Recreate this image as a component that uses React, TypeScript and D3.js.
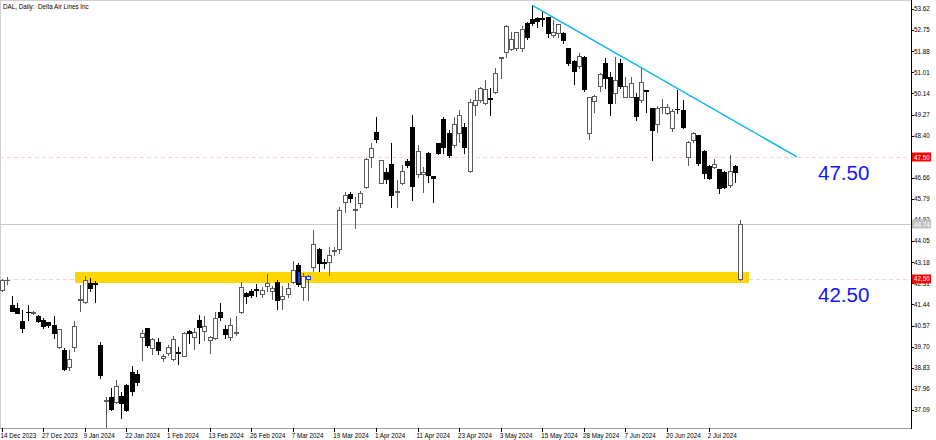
import React from 'react';
import * as d3 from 'd3';

const opens = [
  42.03, 42.45, 41.42, 41.31, 40.76, 41.15, 41.08, 40.97, 40.80, 40.70,
  40.60, 39.70, 39.56, 38.87, 39.70, 41.62, 41.53, 42.31, 42.34, 39.77,
  37.48, 37.64, 37.41, 37.67, 38.12, 38.64, 38.56, 40.08, 40.49, 39.63,
  39.91, 39.22, 39.43, 39.18, 39.50, 39.32, 40.35, 40.09, 40.80, 40.33,
  39.98, 40.06, 41.14, 40.43, 40.09, 40.26, 41.14, 41.90, 41.99, 42.08,
  41.86, 42.20, 41.99, 42.37, 41.65, 41.86, 42.35, 43.07, 42.15, 42.51,
  43.00, 43.72, 43.20, 43.20, 43.64, 43.72, 45.68, 45.98, 45.32, 45.61,
  46.27, 47.51, 48.56, 46.46, 46.91, 47.23, 46.07, 46.46, 47.37, 48.77,
  46.82, 46.82, 47.70, 46.72, 48.08, 49.10, 48.50, 48.01, 48.50, 48.77,
  46.96, 49.66, 49.87, 49.76, 49.97, 50.21, 51.60, 51.86, 51.96, 52.00,
  52.00, 53.03, 53.20, 53.24, 53.24, 53.28, 52.55, 52.64, 52.64, 52.00,
  51.49, 51.28, 51.63, 48.50, 49.83, 50.45, 51.38, 50.83, 50.14, 51.41,
  50.01, 50.01, 50.00, 49.87, 50.28, 49.53, 48.88, 49.56, 49.32, 48.70,
  49.51, 49.46, 47.53, 48.22, 48.43, 47.77, 47.15, 47.12, 47.01, 46.91,
  46.37, 47.15, 42.50,
];
const highs = [
  42.50, 42.58, 41.78, 41.49, 41.21, 41.42, 41.17, 41.00, 40.87, 40.73,
  40.96, 40.43, 39.63, 39.56, 40.76, 42.25, 42.60, 42.53, 42.42, 39.88,
  37.64, 38.01, 38.33, 37.85, 38.16, 38.90, 38.74, 40.40, 40.49, 40.07,
  40.07, 39.40, 39.77, 40.12, 39.70, 40.30, 40.38, 40.46, 41.00, 40.98,
  40.15, 41.14, 41.49, 40.60, 40.87, 40.97, 42.38, 41.97, 42.07, 42.29,
  42.18, 42.70, 42.20, 42.45, 42.20, 42.31, 43.24, 43.14, 42.73, 42.66,
  44.51, 43.76, 43.30, 43.82, 43.80, 45.45, 46.09, 46.09, 45.88, 46.13,
  47.47, 48.08, 49.18, 47.40, 47.05, 48.08, 46.57, 47.20, 47.42, 49.25,
  48.00, 47.12, 47.74, 46.75, 48.10, 49.18, 48.63, 49.18, 49.46, 48.91,
  49.90, 50.30, 50.40, 50.70, 50.35, 51.18, 51.65, 52.96, 52.68, 52.68,
  52.90, 53.10, 53.78, 53.30, 53.50, 53.30, 53.17, 53.00, 52.66, 52.02,
  51.50, 51.80, 51.70, 50.00, 50.08, 51.00, 51.60, 51.04, 51.65, 51.55,
  50.83, 50.80, 50.14, 51.18, 50.30, 49.53, 49.62, 49.90, 49.70, 49.50,
  50.28, 49.87, 48.17, 48.56, 48.43, 47.81, 47.17, 47.42, 47.01, 46.95,
  47.60, 47.19, 44.92,
];
const lows = [
  41.98, 42.30, 41.16, 41.08, 40.32, 40.81, 41.05, 40.72, 40.49, 40.53,
  40.05, 39.65, 38.74, 38.74, 39.52, 41.17, 41.50, 41.99, 41.53, 38.42,
  36.40, 37.09, 37.37, 36.77, 37.05, 37.70, 38.12, 39.15, 39.70, 39.38,
  39.41, 39.10, 39.36, 39.15, 39.00, 39.30, 39.86, 39.60, 39.85, 39.97,
  39.43, 40.02, 40.80, 40.04, 39.98, 40.20, 41.10, 41.49, 41.74, 41.79,
  41.76, 42.00, 41.68, 41.25, 41.25, 41.76, 42.33, 42.20, 41.62, 41.62,
  42.80, 42.80, 42.93, 42.65, 43.50, 43.55, 45.26, 45.68, 44.58, 45.47,
  46.23, 47.12, 48.15, 46.44, 46.46, 45.47, 45.47, 46.40, 47.10, 45.75,
  46.70, 46.09, 46.50, 45.68, 47.66, 47.69, 47.53, 47.95, 48.15, 47.70,
  46.90, 49.25, 49.80, 49.70, 49.25, 50.14, 50.76, 51.65, 51.93, 51.93,
  51.90, 52.37, 52.98, 52.89, 52.92, 52.45, 52.45, 52.48, 52.20, 51.33,
  50.53, 51.20, 50.25, 48.25, 49.39, 50.25, 50.35, 49.25, 49.73, 50.35,
  50.00, 49.98, 49.04, 49.80, 49.39, 47.40, 48.56, 49.32, 49.28, 48.60,
  49.32, 48.70, 47.19, 48.15, 47.19, 46.64, 46.60, 47.05, 46.02, 46.25,
  46.30, 46.50, 42.45,
];
const closes = [
  42.43, 42.46, 41.19, 41.10, 40.49, 41.14, 41.14, 40.76, 40.57, 40.58,
  40.25, 40.43, 38.78, 39.18, 40.57, 41.66, 42.44, 42.10, 42.30, 38.53,
  37.52, 37.12, 38.09, 37.37, 37.09, 37.89, 38.26, 40.25, 39.77, 40.02,
  39.56, 39.32, 39.68, 40.00, 39.43, 40.25, 40.28, 40.32, 40.50, 40.57,
  40.09, 40.87, 40.94, 40.22, 40.60, 40.32, 42.15, 41.79, 41.82, 42.04,
  42.04, 42.34, 42.13, 41.62, 41.79, 42.11, 42.86, 42.30, 42.62, 42.62,
  43.93, 43.14, 43.13, 43.48, 43.70, 45.33, 45.95, 45.82, 45.36, 46.05,
  47.42, 47.88, 48.25, 47.38, 46.60, 45.95, 46.13, 46.94, 47.19, 46.33,
  47.78, 46.91, 46.78, 46.65, 47.70, 47.94, 47.60, 48.88, 49.25, 47.94,
  49.80, 49.87, 50.35, 50.31, 49.93, 50.97, 51.63, 52.92, 52.37, 52.68,
  52.78, 52.48, 53.05, 53.14, 53.20, 52.62, 52.66, 53.00, 52.34, 51.41,
  51.08, 51.68, 50.31, 49.98, 50.03, 50.94, 50.76, 49.76, 50.69, 50.45,
  50.45, 50.59, 49.21, 50.62, 50.25, 48.63, 49.53, 49.60, 49.57, 49.41,
  49.48, 48.77, 48.15, 48.50, 47.26, 46.85, 46.64, 47.23, 46.23, 46.30,
  46.95, 46.91, 44.74,
];

const xTickLabels = [
  '14 Dec 2023', '27 Dec 2023', '9 Jan 2024', '22 Jan 2024', '1 Feb 2024',
  '13 Feb 2024', '26 Feb 2024', '7 Mar 2024', '19 Mar 2024', '1 Apr 2024',
  '11 Apr 2024', '23 Apr 2024', '3 May 2024', '15 May 2024', '28 May 2024',
  '7 Jun 2024', '20 Jun 2024', '2 Jul 2024',
];
const xTickStep = 8;
const yTickValues = [
  53.62, 52.75, 51.88, 51.01, 50.14, 49.27, 48.4, 47.53, 46.66, 45.79,
  44.92, 44.05, 43.18, 42.31, 41.44, 40.57, 39.7, 38.83, 37.96, 37.09,
];
const levelPrices = [47.5, 42.5];
const lastPrice = 44.74;
const zoneBars = [14.1, 143.8];
const zonePrices = [42.32, 42.77];
const trendBars = [102, 153];
const trendPrices = [53.78, 47.52];
const blueBars = [57, 59];
const title = 'DAL, Daily:  Delta Air Lines Inc';

const W = 936;
const H = 440;
const PLOT_R = 911;
const PLOT_B = 428;
const FONT = "'Liberation Sans', Arial, sans-serif";

export default function App() {
  const x = d3.scaleLinear().domain([0, 142]).range([1.5, 1.5 + 5.2 * 142]);
  const y = d3.scaleLinear().domain([37.09, 53.62]).range([410, 9]);
  const px = (i: number) => Math.round(x(i));
  const py = (v: number) => Math.round(y(v));

  const candles = opens.map((o, i) => ({ i, o, h: highs[i], l: lows[i], c: closes[i] }));
  const line = d3.line<number>().x((d, k) => x(trendBars[k])).y((d) => y(d));

  return (
    <svg width={W} height={H} style={{ position: 'absolute', left: 0, top: 0, background: '#fff' }}
      fontFamily={FONT}>
      <defs>
        <clipPath id="plot"><rect x={0} y={0} width={PLOT_R} height={PLOT_B} /></clipPath>
        <clipPath id="zone">
          <rect x={x(zoneBars[0])} y={y(zonePrices[1])} width={x(zoneBars[1]) - x(zoneBars[0])}
            height={y(zonePrices[0]) - y(zonePrices[1])} />
        </clipPath>
      </defs>
      <rect x={0} y={0} width={W} height={H} fill="#fff" />
      <line x1={0} y1={0.5} x2={PLOT_R} y2={0.5} stroke="#d0d0d0" />
      <line x1={0.5} y1={0} x2={0.5} y2={PLOT_B} stroke="#d0d0d0" />
      <g clipPath="url(#plot)" shapeRendering="crispEdges">
        <line x1={0} x2={PLOT_R} y1={py(lastPrice) + 0.5} y2={py(lastPrice) + 0.5} stroke="#c8c8c8" />
        {levelPrices.map((p) => (
          <line key={p} x1={0} x2={PLOT_R} y1={py(p) + 0.5} y2={py(p) + 0.5} stroke="#fbd0d0" strokeDasharray="4,3" />
        ))}
        <rect x={x(zoneBars[0])} y={y(zonePrices[1])} width={x(zoneBars[1]) - x(zoneBars[0])}
          height={y(zonePrices[0]) - y(zonePrices[1])} fill="#FFD700" />
        {candles.map((d) => {
          const cx = px(d.i);
          const bull = d.c >= d.o;
          const top = py(Math.max(d.o, d.c));
          const bot = py(Math.min(d.o, d.c));
          const col = bull ? '#5a5a5a' : '#000';
          return (
            <g key={d.i}>
              <line x1={cx + 0.5} x2={cx + 0.5} y1={py(d.h)} y2={py(d.l) + 1} stroke={col} />
              {bot - top < 1 ? (
                <line x1={cx - 2} x2={cx + 3} y1={top + 0.5} y2={top + 0.5} stroke={col} />
              ) : (
                <rect x={cx - 1.5} y={top + 0.5} width={4} height={bot - top} fill={bull ? '#fff' : '#000'} stroke={col} />
              )}
            </g>
          );
        })}
        <g clipPath="url(#zone)">
          {blueBars.map((i) => {
            const cx = px(i);
            const bull = closes[i] >= opens[i];
            const top = py(Math.max(opens[i], closes[i]));
            const bot = py(Math.min(opens[i], closes[i]));
            return bull ? (
              <rect key={i} x={cx - 1.5} y={top + 0.5} width={4} height={Math.max(1, bot - top)} fill="#fff" stroke="#1c3cff" />
            ) : (
              <rect key={i} x={cx - 0.5} y={top + 1} width={2} height={bot - top - 1} fill="#1c3cff" />
            );
          })}
        </g>
        <path d={line(trendPrices) || ''} fill="none" stroke="#00b4f0" strokeWidth={1.4} shapeRendering="auto" />
      </g>
      <text x={3} y={8.5} fontSize={6.3} fill="#000" style={{ whiteSpace: 'pre' }}>{title}</text>
      {levelPrices.map((p) => (
        <text key={p} x={818} y={y(p) + 23} fontSize={20.5} fill="#1414ff">{p.toFixed(2)}</text>
      ))}
      <g shapeRendering="crispEdges">
        <line x1={0} x2={PLOT_R} y1={PLOT_B + 0.5} y2={PLOT_B + 0.5} stroke="#a0a0a0" />
        <line x1={PLOT_R + 0.5} x2={PLOT_R + 0.5} y1={0} y2={PLOT_B + 1} stroke="#000" />
        {yTickValues.map((v) => (
          <line key={v} x1={PLOT_R} x2={PLOT_R + 3} y1={py(v) + 0.5} y2={py(v) + 0.5} stroke="#000" />
        ))}
        {xTickLabels.map((t, k) => (
          <line key={t} x1={px(k * xTickStep) + 0.5} x2={px(k * xTickStep) + 0.5} y1={PLOT_B} y2={PLOT_B + 4} stroke="#000" />
        ))}
      </g>
      {yTickValues.map((v) => (
        <text key={v} x={PLOT_R + 3} y={y(v) + 2.3} fontSize={6.3} fill="#000">{v.toFixed(2)}</text>
      ))}
      {xTickLabels.map((t, k) => (
        <text key={t} x={x(k * xTickStep) - 1} y={437.5} fontSize={6.3} fill="#000">{t}</text>
      ))}
      <rect x={PLOT_R + 1} y={py(lastPrice) - 4.5} width={W - PLOT_R - 6} height={9} fill="#c0c0c0" />
      <text x={PLOT_R + 3} y={y(lastPrice) + 2.3} fontSize={6.3} fill="#fff">{lastPrice.toFixed(2)}</text>
      {levelPrices.map((p) => (
        <g key={p}>
          <rect x={PLOT_R + 1} y={py(p) - 4.5} width={W - PLOT_R - 6} height={9} fill="#ff0000" />
          <text x={PLOT_R + 3} y={y(p) + 2.3} fontSize={6.3} fill="#fff">{p.toFixed(2)}</text>
        </g>
      ))}
    </svg>
  );
}
